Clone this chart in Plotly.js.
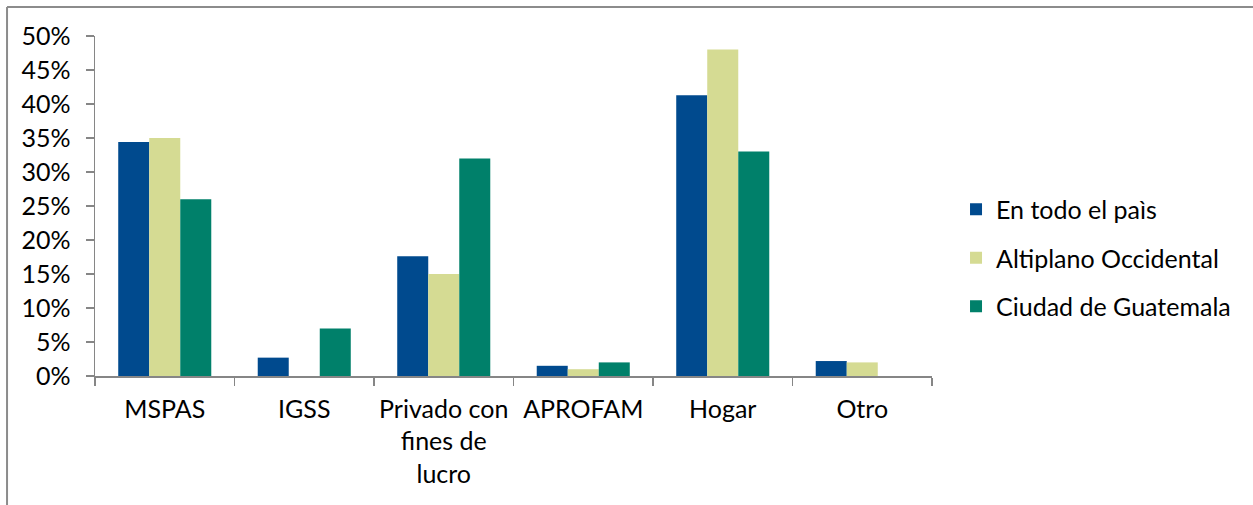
<!DOCTYPE html>
<html>
<head>
<meta charset="utf-8">
<script src="https://cdn.plot.ly/plotly-3.0.1.min.js"></script>
<style>
html,body{margin:0;padding:0;background:#fff;}
#chart{width:1253px;height:505px;}
</style>
</head>
<body>
<div id="chart"></div>
<script>
const categories = ["MSPAS", "IGSS", "Privado con<br>fines de<br>lucro", "APROFAM", "Hogar", "Otro"];
const seriesNames = ["En todo el paìs", "Altiplano Occidental", "Ciudad de Guatemala"];
const enTodoElPais = [0.344, 0.027, 0.176, 0.015, 0.413, 0.022];
const altiplanoOccidental = [0.350, 0, 0.150, 0.010, 0.480, 0.020];
const ciudadGuatemala = [0.260, 0.070, 0.320, 0.020, 0.330, 0];
const yTickVals = [0, 0.05, 0.10, 0.15, 0.20, 0.25, 0.30, 0.35, 0.40, 0.45, 0.50];
const colors = ["#004A8E", "#D5DB93", "#00806A"];

const seriesValues = [enTodoElPais, altiplanoOccidental, ciudadGuatemala];
const traces = seriesValues.map((vals, i) => ({
  type: "bar",
  name: seriesNames[i],
  x: categories,
  y: vals,
  legendgroup: "g" + i,
  marker: {color: colors[i], line: {width: 0}},
  hoverinfo: "x+y+name"
}));

const FONT = "Lato, 'Open Sans', sans-serif";

const layout = {
  width: 1253,
  height: 505,
  margin: {l: 95, r: 321, t: 36, b: 129, pad: 0},
  paper_bgcolor: "#ffffff",
  plot_bgcolor: "#ffffff",
  font: {family: FONT, size: 25, color: "#000000"},
  barmode: "group",
  bargap: 0.333,
  bargroupgap: 0,
  showlegend: true,
  legend: {
    x: 1.0287, xanchor: "left",
    y: 0.347, yanchor: "middle",
    font: {family: FONT, size: 25, color: "#000000"},
    traceorder: "grouped",
    tracegroupgap: 13,
    bgcolor: "rgba(0,0,0,0)"
  },
  xaxis: {
    type: "category",
    showline: true,
    linecolor: "#868686",
    linewidth: 1.5,
    ticks: "outside",
    tickson: "boundaries",
    ticklen: 8,
    tickwidth: 1.5,
    tickcolor: "#868686",
    showgrid: false,
    zeroline: false,
    tickfont: {family: FONT, size: 25, color: "#000000"},
    ticklabelstandoff: 10
  },
  yaxis: {
    range: [0, 0.5],
    tickvals: yTickVals,
    tickformat: ".0%",
    showline: true,
    linecolor: "#868686",
    linewidth: 1.5,
    ticks: "outside",
    ticklen: 8,
    tickwidth: 1.5,
    tickcolor: "#868686",
    showgrid: false,
    zeroline: false,
    tickfont: {family: FONT, size: 25, color: "#000000"},
    ticklabelstandoff: 10
  },
  shapes: [
    {type: "line", xref: "paper", yref: "paper", x0: -0.1051, x1: 1.5, y0: 1.0853, y1: 1.0853,
     line: {color: "#8C8C8C", width: 2}},
    {type: "line", xref: "paper", yref: "paper", x0: -0.1051, x1: -0.1051, y0: -0.5, y1: 1.0853,
     line: {color: "#8C8C8C", width: 2}}
  ]
};

Plotly.newPlot("chart", traces, layout, {displayModeBar: false, staticPlot: true});
</script>
</body>
</html>
